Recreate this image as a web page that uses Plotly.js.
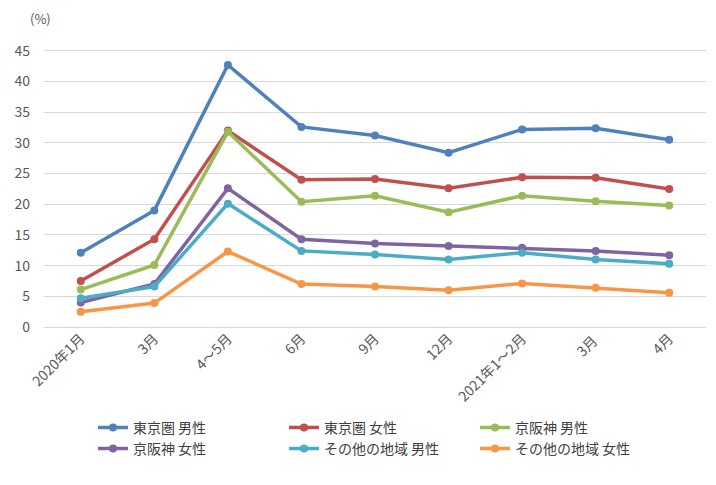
<!DOCTYPE html>
<html><head><meta charset="utf-8">
<script src="https://cdn.plot.ly/plotly-3.0.1.min.js"></script>
<style>html,body{margin:0;padding:0;background:#fff}#c{width:716px;height:485px}</style>
</head><body><div id="c"></div>
<script>
var categories = ["2020年1月","3月","4～5月","6月","9月","12月","2021年1～2月","3月 ","4月"];
var seriesNames = ["東京圏 男性","東京圏 女性","京阪神 男性","京阪神 女性","その他の地域 男性","その他の地域 女性"];
var tokyoMale   = [12.1, 19.0, 42.7, 32.6, 31.2, 28.4, 32.2, 32.4, 30.5];
var tokyoFemale = [7.5, 14.3, 32.0, 24.0, 24.1, 22.6, 24.4, 24.3, 22.5];
var kansaiMale  = [6.1, 10.1, 31.8, 20.4, 21.4, 18.7, 21.4, 20.5, 19.8];
var kansaiFemale= [4.0, 7.0, 22.6, 14.3, 13.6, 13.2, 12.9, 12.4, 11.7];
var otherMale   = [4.7, 6.6, 20.1, 12.4, 11.8, 11.0, 12.1, 11.0, 10.3];
var otherFemale = [2.5, 3.9, 12.3, 7.0, 6.6, 6.0, 7.1, 6.4, 5.6];
var colors = ["#4F81BD","#C0504D","#9BBB59","#8064A2","#4BACC6","#F79646"];
var values = [tokyoMale, tokyoFemale, kansaiMale, kansaiFemale, otherMale, otherFemale];
var font = "'Noto Sans CJK JP', 'Noto Sans', sans-serif";
var traces = values.map(function(v,i){
  return {x: categories, y: v, name: seriesNames[i], type:'scatter', mode:'lines+markers',
    line:{color:colors[i], width:3.5}, marker:{color:colors[i], size:8}};
});
var layout = {
  width:716, height:485,
  margin:{l:44, r:10, t:49, b:158},
  paper_bgcolor:'#fff', plot_bgcolor:'#fff',
  font:{family:font, size:13, color:'#595959'},
  showlegend:true,
  xaxis:{type:'category', tickangle:-45, showgrid:false, zeroline:false, showline:false,
    ticks:'', tickfont:{size:14, color:'#595959'}, range:[-0.5, 8.5]},
  yaxis:{range:[0,45.3], tickvals:[0,5,10,15,20,25,30,35,40,45], showgrid:true, gridcolor:'#D9D9D9',
    gridwidth:1, zeroline:true, zerolinecolor:'#D9D9D9', showline:false, ticks:'',
    tickfont:{size:14, color:'#595959'}, ticklabelstandoff:13},
  legend:{orientation:'h', x:0.074, xanchor:'left', y:-0.305, yanchor:'top',
    entrywidth:146, entrywidthmode:'pixels', font:{size:14, color:'#404040'}, tracegroupgap:0},
  annotations:[{text:'(%)', xref:'paper', yref:'paper', x:-0.006, y:1.11, xanchor:'center', yanchor:'middle',
    showarrow:false, font:{size:13, color:'#595959'}}]
};
Plotly.newPlot('c', traces, layout, {displayModeBar:false, staticPlot:true});
</script></body></html>
